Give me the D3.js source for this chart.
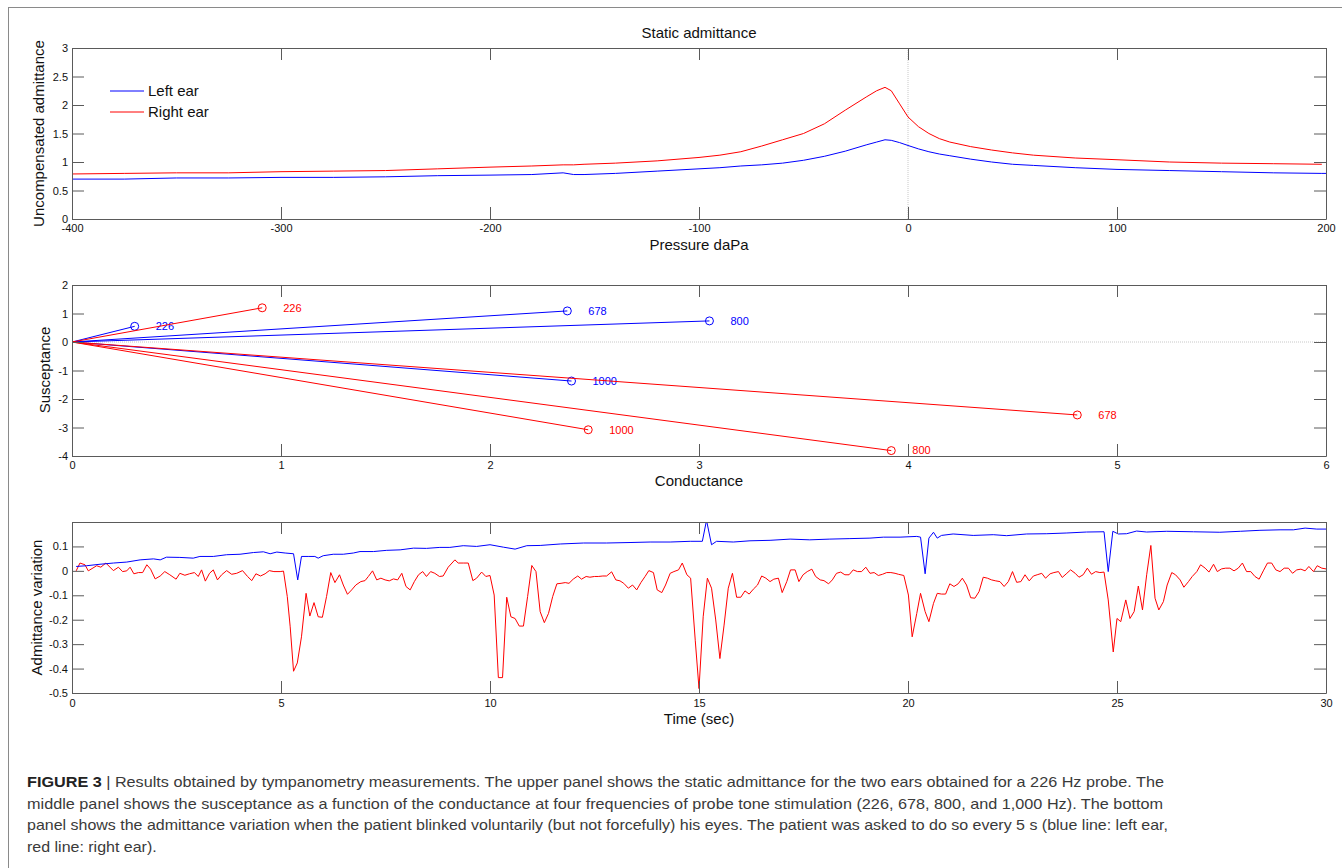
<!DOCTYPE html>
<html>
<head>
<meta charset="utf-8">
<script src="https://d3js.org/d3.v7.min.js"></script>
<style>
  body { margin: 0; background: #fff; }
  svg { display: block; }
  text { font-family: Arial, "Liberation Sans", Helvetica, sans-serif; }
</style>
</head>
<body>
<svg></svg>
<script>
var viewWidth = 1342;
var viewHeight = 868;

// top panel: static admittance vs pressure
var pressure = [-400, -375, -350, -325, -300, -275, -250, -225, -200, -180, -165, -160, -155, -140, -120, -100, -90, -80, -70, -60, -50, -40, -30, -20, -15, -11, -8, -4, 0, 5, 10, 15, 20, 30, 40, 50, 60, 80, 100, 125, 150, 175, 198, 200];
var leftAdmittance = [0.70, 0.70, 0.72, 0.72, 0.73, 0.73, 0.74, 0.76, 0.77, 0.78, 0.81, 0.78, 0.78, 0.80, 0.84, 0.88, 0.90, 0.93, 0.95, 0.98, 1.03, 1.10, 1.19, 1.30, 1.35, 1.39, 1.38, 1.34, 1.29, 1.23, 1.18, 1.14, 1.11, 1.05, 1.00, 0.96, 0.94, 0.90, 0.87, 0.85, 0.83, 0.81, 0.80, 0.80];
var rightAdmittance = [0.79, 0.80, 0.81, 0.81, 0.83, 0.84, 0.85, 0.88, 0.91, 0.93, 0.95, 0.95, 0.96, 0.98, 1.02, 1.08, 1.12, 1.18, 1.28, 1.39, 1.50, 1.67, 1.91, 2.14, 2.25, 2.31, 2.25, 2.02, 1.79, 1.62, 1.50, 1.41, 1.35, 1.27, 1.21, 1.16, 1.12, 1.07, 1.04, 1.00, 0.98, 0.97, 0.96, null];
var pressureTicks = [-400, -300, -200, -100, 0, 100, 200];
var admittanceTicks = [0, 0.5, 1, 1.5, 2, 2.5, 3];
var legendLabels = ["Left ear", "Right ear"];

// middle panel: susceptance vs conductance per probe frequency
var probeFreqs = ["226", "678", "800", "1000"];
var leftConductance = [0.30, 2.37, 3.05, 2.39];
var leftSusceptance = [0.55, 1.09, 0.74, -1.37];
var rightConductance = [0.91, 4.81, 3.92, 2.47];
var rightSusceptance = [1.20, -2.56, -3.81, -3.08];
var conductanceTicks = [0, 1, 2, 3, 4, 5, 6];
var susceptanceTicks = [-4, -3, -2, -1, 0, 1, 2];

// bottom panel: admittance variation over time
var leftTime = [0.10, 0.35, 0.67, 0.99, 1.31, 1.63, 1.95, 2.11, 2.26, 2.58, 2.90, 3.06, 3.38, 3.70, 4.02, 4.34, 4.58, 4.74, 4.90, 5.10, 5.30, 5.40, 5.49, 5.65, 5.81, 5.89, 6.01, 6.25, 6.49, 6.73, 6.89, 7.21, 7.53, 7.85, 8.17, 8.48, 8.80,
  9.04, 9.36, 9.68, 10.00, 10.32, 10.60, 10.88, 11.20, 11.68, 12.24, 12.79, 13.35, 13.83, 14.31, 14.79, 15.08, 15.18, 15.30, 15.42, 15.82, 16.22, 16.70, 17.18, 17.65, 18.13, 18.61, 19.09, 19.41,
  19.81, 20.21, 20.30, 20.41, 20.50, 20.61, 20.70, 20.80, 21.08, 21.56, 22.04, 22.36, 22.84, 23.32, 23.80, 24.27, 24.69, 24.79, 24.90, 25.03, 25.23, 25.47, 25.71, 26.19, 26.83, 27.46, 27.95, 28.42, 28.90, 29.22, 29.50, 29.78, 30.00];
var leftVariation = [0.018, 0.021, 0.027, 0.032, 0.036, 0.045, 0.049, 0.045, 0.056, 0.055, 0.052, 0.059, 0.059, 0.066, 0.068, 0.075, 0.078, 0.070, 0.077, 0.073, 0.070, -0.037, 0.059, 0.059, 0.059, 0.052, 0.062, 0.068, 0.068, 0.073, 0.079, 0.079, 0.084, 0.086, 0.093, 0.092, 0.096,
  0.096, 0.103, 0.100, 0.107, 0.097, 0.089, 0.103, 0.104, 0.110, 0.114, 0.114, 0.116, 0.118, 0.118, 0.121, 0.121, 0.207, 0.107, 0.121, 0.118, 0.123, 0.125, 0.130, 0.127, 0.130, 0.132, 0.134, 0.138,
  0.138, 0.141, 0.138, -0.012, 0.134, 0.158, 0.134, 0.145, 0.151, 0.145, 0.148, 0.144, 0.151, 0.152, 0.155, 0.159, 0.160, -0.003, 0.162, 0.151, 0.152, 0.163, 0.159, 0.162, 0.160, 0.158, 0.162, 0.166, 0.168, 0.168, 0.175, 0.171, 0.171];

var rightTime = [0.10, 0.19, 0.31, 0.39, 0.59, 0.69, 0.81, 0.99, 1.11, 1.21, 1.31, 1.39, 1.48, 1.59, 1.69, 1.79, 1.88, 1.99, 2.11, 2.22, 2.34, 2.49, 2.58, 2.70, 2.81, 2.93, 3.02, 3.10, 3.19, 3.29, 3.38, 3.48, 3.58, 3.70, 3.82, 3.94, 4.08, 4.20, 4.30, 4.40, 4.51, 4.62, 4.72, 4.83, 4.98, 5.06,
  5.15, 5.22, 5.30, 5.39, 5.49, 5.60, 5.69, 5.79, 5.89, 5.99, 6.09, 6.19, 6.29, 6.40, 6.49, 6.59, 6.69, 6.79, 6.91, 7.01, 7.09, 7.19, 7.29, 7.39, 7.49, 7.59, 7.69, 7.79, 7.89, 7.99, 8.09, 8.19, 8.29, 8.39, 8.48, 8.58, 8.68, 8.79, 8.88, 9.00,
  9.16, 9.24, 9.36, 9.48, 9.59, 9.68, 9.80, 9.90, 10.00, 10.10, 10.20, 10.30, 10.40, 10.50, 10.60, 10.70, 10.80, 10.90, 11.00, 11.10, 11.20, 11.30, 11.40, 11.50, 11.60, 11.70, 11.80, 11.89, 11.99, 12.10, 12.19, 12.30, 12.39, 12.50, 12.59, 12.70, 12.79, 12.91,
  13.01, 13.11, 13.20, 13.31, 13.41, 13.51, 13.61, 13.71, 13.80, 13.91, 14.00, 14.11, 14.20, 14.31, 14.40, 14.51, 14.60, 14.71, 14.80, 14.91, 15.00, 15.10, 15.20, 15.30, 15.40, 15.50, 15.60, 15.70, 15.80, 15.90, 16.00, 16.10, 16.20, 16.30, 16.40, 16.50,
  16.60, 16.70, 16.79, 16.90, 16.99, 17.10, 17.19, 17.30, 17.39, 17.49, 17.59, 17.70, 17.79, 17.90, 17.99, 18.10, 18.19, 18.29, 18.39, 18.49, 18.59, 18.69, 18.79, 18.89, 18.99, 19.09, 19.19, 19.29, 19.39, 19.49, 19.59, 19.69, 19.77, 19.90,
  20.01, 20.10, 20.21, 20.30, 20.41, 20.50, 20.61, 20.70, 20.80, 20.90, 21.00, 21.10, 21.20, 21.30, 21.40, 21.50, 21.60, 21.70, 21.80, 21.90, 22.00, 22.10, 22.20, 22.30, 22.40, 22.50, 22.60, 22.70, 22.80, 22.90, 23.00, 23.09, 23.20, 23.29, 23.40, 23.49,
  23.60, 23.69, 23.80, 23.89, 24.00, 24.09, 24.19, 24.29, 24.39, 24.49, 24.59, 24.69, 24.79, 24.91, 25.00, 25.09, 25.21, 25.31, 25.41, 25.51, 25.61, 25.71, 25.81, 25.91, 26.00, 26.11, 26.20, 26.31, 26.40, 26.51, 26.60, 26.71, 26.80, 26.91,
  27.00, 27.11, 27.20, 27.31, 27.40, 27.50, 27.60, 27.70, 27.80, 27.90, 28.00, 28.10, 28.20, 28.30, 28.40, 28.50, 28.60, 28.70, 28.80, 28.90, 29.00, 29.10, 29.20, 29.30, 29.40, 29.50, 29.59, 29.70, 29.79, 29.90, 30.00];
var rightVariation = [0.000, 0.032, 0.025, 0.000, 0.021, 0.015, 0.032, 0.001, 0.015, -0.003, 0.000, 0.015, -0.012, -0.007, -0.007, 0.025, 0.007, -0.033, -0.021, -0.003, -0.016, -0.034, -0.010, -0.018, -0.012, -0.007, -0.023, 0.004, -0.042, -0.010, 0.004, -0.037, -0.016, 0.001, -0.014, -0.010, 0.001, -0.023, -0.040, -0.012, -0.021, -0.012, 0.001, -0.003, -0.003, -0.001,
  -0.105, -0.229, -0.411, -0.377, -0.270, -0.092, -0.185, -0.130, -0.188, -0.190, -0.105, -0.007, -0.048, -0.016, -0.058, -0.096, -0.078, -0.058, -0.044, -0.040, -0.023, 0.000, -0.037, -0.030, -0.037, -0.041, -0.033, -0.037, -0.010, -0.064, -0.078, -0.044, -0.016, -0.003, -0.023, -0.003, -0.010, -0.023, -0.021, 0.015,
  0.045, 0.032, 0.032, 0.032, -0.040, -0.030, -0.005, -0.023, -0.019, -0.099, -0.437, -0.437, -0.108, -0.188, -0.195, -0.226, -0.226, -0.105, 0.022, -0.003, -0.167, -0.212, -0.174, -0.105, -0.053, -0.051, -0.048, -0.051, -0.034, -0.021, -0.034, -0.023, -0.026, -0.023, -0.023, -0.021, -0.021, -0.004,
  -0.037, -0.041, -0.051, -0.071, -0.058, -0.078, -0.048, -0.023, 0.001, -0.007, -0.078, -0.089, -0.058, -0.010, -0.003, 0.004, 0.032, -0.016, -0.030, -0.284, -0.482, -0.188, -0.030, -0.071, -0.201, -0.359, -0.222, -0.071, -0.010, -0.108, -0.108, -0.082, -0.095, -0.075, -0.058, -0.021,
  -0.030, -0.044, -0.034, -0.030, -0.089, -0.044, 0.004, 0.004, -0.044, -0.016, -0.003, 0.007, -0.023, -0.037, -0.040, -0.053, -0.037, -0.010, -0.005, -0.016, -0.016, 0.004, -0.003, -0.003, 0.015, -0.010, -0.007, -0.019, -0.014, -0.007, -0.007, -0.010, -0.014, -0.019,
  -0.099, -0.270, -0.174, -0.092, -0.167, -0.208, -0.133, -0.092, -0.095, -0.095, -0.053, -0.064, -0.053, -0.030, -0.058, -0.110, -0.112, -0.085, -0.026, -0.030, -0.037, -0.041, -0.044, -0.064, -0.044, -0.003, -0.047, -0.044, -0.016, -0.041, -0.021, -0.016, -0.010, -0.030, -0.012, -0.007,
  -0.003, -0.027, -0.010, 0.004, -0.010, -0.026, -0.016, 0.011, -0.014, -0.003, -0.007, -0.005, -0.119, -0.332, -0.195, -0.208, -0.119, -0.195, -0.167, -0.062, -0.160, -0.016, 0.104, -0.112, -0.160, -0.126, -0.058, -0.007, -0.016, -0.037, -0.067, -0.044, -0.023, -0.003,
  0.025, 0.011, -0.005, 0.027, -0.003, 0.008, 0.011, 0.011, 0.000, 0.011, 0.032, -0.003, -0.003, -0.023, -0.034, 0.000, 0.032, 0.032, 0.004, -0.003, 0.011, 0.011, -0.010, 0.004, 0.007, 0.000, 0.018, -0.003, 0.021, 0.011, 0.008];
var timeTicks = [0, 5, 10, 15, 20, 25, 30];
var variationTicks = [-0.5, -0.4, -0.3, -0.2, -0.1, 0, 0.1];

var captionLines = [
  ["FIGURE 3", " | Results obtained by tympanometry measurements. The upper panel shows the static admittance for the two ears obtained for a 226 Hz probe. The"],
  ["", "middle panel shows the susceptance as a function of the conductance at four frequencies of probe tone stimulation (226, 678, 800, and 1,000 Hz). The bottom"],
  ["", "panel shows the admittance variation when the patient blinked voluntarily (but not forcefully) his eyes. The patient was asked to do so every 5 s (blue line: left ear,"],
  ["", "red line: right ear)."]
];

var blue = "#0000ff";
var red = "#ff0000";
var plotLeft = 72, plotRight = 1326;

var svg = d3.select("svg")
    .attr("width", viewWidth)
    .attr("height", viewHeight)
    .style("background", "#fff");

// page frame lines
svg.append("line").attr("x1", 8).attr("x2", viewWidth).attr("y1", 7.5).attr("y2", 7.5)
    .style("stroke", "#8a8a8a").style("stroke-width", 1);
svg.append("line").attr("x1", 8.5).attr("x2", 8.5).attr("y1", 7.5).attr("y2", viewHeight)
    .style("stroke", "#8a8a8a").style("stroke-width", 1);

function drawAxes(x, y, xTicks, yTicks, padX) {
    var x0 = x.range()[0], x1 = x.range()[1];
    var y0 = y.range()[0], y1 = y.range()[1];
    var fmt = function(d) { return String(d); };

    var axes = [
        {axis: d3.axisBottom(x).tickValues(xTicks).tickFormat(fmt).tickPadding(padX), t: "translate(0," + y0 + ")"},
        {axis: d3.axisTop(x).tickValues(xTicks).tickFormat(""), t: "translate(0," + y1 + ")"},
        {axis: d3.axisLeft(y).tickValues(yTicks).tickFormat(fmt).tickPadding(4), t: "translate(" + x0 + ",0)"},
        {axis: d3.axisRight(y).tickValues(yTicks).tickFormat(""), t: "translate(" + x1 + ",0)"}
    ];
    axes.forEach(function(a) {
        var g = svg.append("g")
            .attr("transform", a.t)
            .call(a.axis.tickSizeInner(-12).tickSizeOuter(0))
            .attr("font-family", "Arial, 'Liberation Sans', Helvetica, sans-serif")
            .attr("font-size", 11);
        g.selectAll("path, line").style("stroke", "#5a5a5a");
        g.selectAll("text").style("fill", "#111");
    });
}

function axisLabel(txt, x, y, rotate) {
    svg.append("text")
        .attr("transform", "translate(" + x + "," + y + ")" + (rotate ? " rotate(-90)" : ""))
        .attr("dy", rotate ? "0.35em" : 0)
        .style("text-anchor", "middle")
        .style("font-size", "15px")
        .style("fill", "#111")
        .text(txt);
}

function drawStatic() {
    var x = d3.scaleLinear().domain([-400, 200]).range([plotLeft, plotRight]);
    var y = d3.scaleLinear().domain([0, 3]).range([219, 48]);

    svg.append("line")
        .attr("x1", x(0)).attr("x2", x(0))
        .attr("y1", y(0)).attr("y2", y(3))
        .style("stroke", "#c8c8c8")
        .style("stroke-dasharray", "1,1");

    var line = function(vals) {
        return d3.line()
            .defined(function(d, i) { return vals[i] != null; })
            .x(function(d) { return x(d); })
            .y(function(d, i) { return y(vals[i]); });
    };
    svg.append("path").datum(pressure).attr("d", line(leftAdmittance))
        .style("fill", "none").style("stroke", blue).style("stroke-width", 1);
    svg.append("path").datum(pressure).attr("d", line(rightAdmittance))
        .style("fill", "none").style("stroke", red).style("stroke-width", 1);

    drawAxes(x, y, pressureTicks, admittanceTicks, 5.5);

    var colors = [blue, red];
    svg.selectAll("legline")
        .data(legendLabels)
        .enter()
        .append("line")
        .attr("x1", 110).attr("x2", 144)
        .attr("y1", function(d, i) { return 91 + i * 21; })
        .attr("y2", function(d, i) { return 91 + i * 21; })
        .style("stroke", function(d, i) { return colors[i]; });
    svg.selectAll("leglabel")
        .data(legendLabels)
        .enter()
        .append("text")
        .attr("x", 148)
        .attr("y", function(d, i) { return 96 + i * 21; })
        .style("font-size", "15px")
        .style("fill", "#111")
        .text(function(d) { return d; });

    svg.append("text")
        .attr("x", (plotLeft + plotRight) / 2)
        .attr("y", 38)
        .style("text-anchor", "middle")
        .style("font-size", "15px")
        .style("fill", "#111")
        .text("Static admittance");
    axisLabel("Pressure daPa", (plotLeft + plotRight) / 2, 250, false);
    axisLabel("Uncompensated admittance", 39, 133.5, true);
}

function drawSusceptance() {
    var x = d3.scaleLinear().domain([0, 6]).range([plotLeft, plotRight]);
    var y = d3.scaleLinear().domain([-4, 2]).range([456, 285]);

    svg.append("line")
        .attr("x1", x(0)).attr("x2", x(6))
        .attr("y1", y(0)).attr("y2", y(0))
        .style("stroke", "#c8c8c8")
        .style("stroke-dasharray", "1,1");

    var ears = [
        {g: leftConductance, b: leftSusceptance, color: blue},
        {g: rightConductance, b: rightSusceptance, color: red}
    ];
    ears.forEach(function(ear) {
        var grp = svg.append("g");
        grp.selectAll("line")
            .data(probeFreqs)
            .enter()
            .append("line")
            .attr("x1", x(0)).attr("y1", y(0))
            .attr("x2", function(d, i) { return x(ear.g[i]); })
            .attr("y2", function(d, i) { return y(ear.b[i]); })
            .style("stroke", ear.color)
            .style("stroke-width", 1);
        grp.selectAll("circle")
            .data(probeFreqs)
            .enter()
            .append("circle")
            .attr("cx", function(d, i) { return x(ear.g[i]); })
            .attr("cy", function(d, i) { return y(ear.b[i]); })
            .attr("r", 4)
            .style("fill", "none")
            .style("stroke", ear.color);
        grp.selectAll("text")
            .data(probeFreqs)
            .enter()
            .append("text")
            .attr("x", function(d, i) { return x(ear.g[i]) + 21; })
            .attr("y", function(d, i) { return y(ear.b[i]); })
            .attr("dy", "0.35em")
            .style("font-size", "11px")
            .style("fill", ear.color)
            .text(function(d) { return d; });
    });

    drawAxes(x, y, conductanceTicks, susceptanceTicks, 5);
    axisLabel("Conductance", (plotLeft + plotRight) / 2, 486, false);
    axisLabel("Susceptance", 45, 370, true);
}

function drawVariation() {
    var x = d3.scaleLinear().domain([0, 30]).range([plotLeft, plotRight]);
    var y = d3.scaleLinear().domain([-0.5, 0.2]).range([693, 522]);

    svg.append("defs").append("clipPath")
        .attr("id", "clipBottom")
        .append("rect")
        .attr("x", plotLeft).attr("y", 522)
        .attr("width", plotRight - plotLeft).attr("height", 693 - 522);

    var area = svg.append("g").attr("clip-path", "url(#clipBottom)");
    var line = function(vals) {
        return d3.line()
            .x(function(d) { return x(d); })
            .y(function(d, i) { return y(vals[i]); });
    };
    area.append("path").datum(rightTime).attr("d", line(rightVariation))
        .style("fill", "none").style("stroke", red).style("stroke-width", 1);
    area.append("path").datum(leftTime).attr("d", line(leftVariation))
        .style("fill", "none").style("stroke", blue).style("stroke-width", 1);

    drawAxes(x, y, timeTicks, variationTicks, 6);
    axisLabel("Time (sec)", (plotLeft + plotRight) / 2, 724, false);
    axisLabel("Admittance variation", 37, 607.5, true);
}

function drawCaption() {
    // full lines are squeezed to the measured widths; the short last line uses the same squeeze
    var fullWidths = [1137, 1136, 1141];
    var baseY = 787;
    var ratio = 1;
    captionLines.forEach(function(parts, i) {
        var t = svg.append("text")
            .attr("x", 27)
            .attr("y", baseY + i * 21.7)
            .style("font-size", "15px")
            .style("fill", "#3a3a3a");
        if (parts[0]) {
            t.append("tspan").style("font-weight", "bold").style("fill", "#222").text(parts[0]);
        }
        t.append("tspan").text(parts[1]);
        var natural = t.node().getComputedTextLength();
        if (i < fullWidths.length) ratio = fullWidths[i] / natural;
        t.attr("textLength", i < fullWidths.length ? fullWidths[i] : natural * ratio)
            .attr("lengthAdjust", "spacingAndGlyphs");
    });
}

drawStatic();
drawSusceptance();
drawVariation();
drawCaption();
</script>
</body>
</html>
